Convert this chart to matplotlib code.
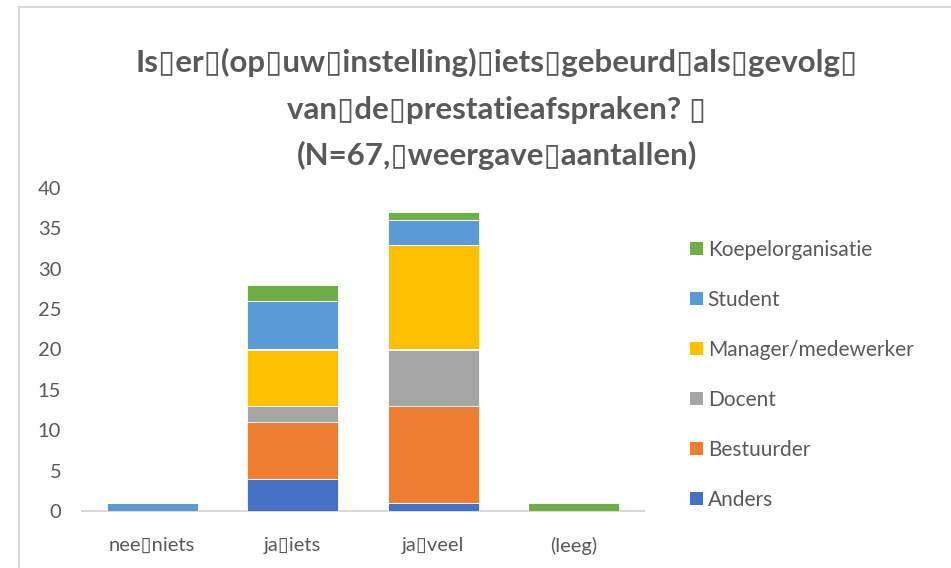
import matplotlib
matplotlib.use("Agg")
import matplotlib.pyplot as plt
from matplotlib.lines import Line2D
from matplotlib.patches import Patch
import numpy as np

B = "\u25AF"  # box glyph, as rendered in the reference

categories = [f"nee{B}niets", f"ja{B}iets", f"ja{B}veel", "(leeg)"]
series_names = ["Anders", "Bestuurder", "Docent", "Manager/medewerker", "Student", "Koepelorganisatie"]
anders = [0, 4, 1, 0]
bestuurder = [0, 7, 12, 0]
docent = [0, 2, 7, 0]
manager = [0, 7, 13, 0]
student = [1, 6, 3, 0]
koepel = [0, 2, 1, 1]
yticks = [0, 5, 10, 15, 20, 25, 30, 35, 40]

title_lines = [
    f"Is{B}er{B}(op{B}uw{B}instelling){B}iets{B}gebeurd{B}als{B}gevolg{B}",
    f"van{B}de{B}prestatieafspraken? {B}",
    f"(N=67,{B}weergave{B}aantallen)",
]

colors = ["#4472C4", "#ED7D31", "#A5A5A5", "#FFC000", "#5B9BD5", "#70AD47"]
values = [anders, bestuurder, docent, manager, student, koepel]

plt.rcParams['font.family'] = ['Lato', 'DejaVu Sans']
TXT = "#595959"

W, H = 951, 568
fig = plt.figure(figsize=(W / 100, H / 100), dpi=100)
ax = fig.add_axes([82 / W, 1 - 511 / H, (644 - 82) / W, (511 - 188) / H])

x = np.arange(len(categories))
bottom = np.zeros(len(categories))
for name, vals, c in zip(series_names, values, colors):
    v = np.array(vals, dtype=float)
    ax.bar(x, v, bottom=bottom, width=0.65, color=c, edgecolor="white",
           linewidth=0.6, label=name, zorder=2)
    bottom += v

ax.set_xlim(-0.5, len(categories) - 0.5)
ax.set_ylim(0, 40)
ax.set_yticks(yticks)
ax.set_yticklabels([str(t) for t in yticks])
ax.set_xticks(x)
ax.set_xticklabels(categories)
for s in ["top", "right", "left"]:
    ax.spines[s].set_visible(False)
ax.spines["bottom"].set_color("#D9D9D9")
ax.spines["bottom"].set_linewidth(1.5)
ax.spines["bottom"].set_zorder(1)
ax.tick_params(axis="both", length=0, colors=TXT, labelsize=14.5)
ax.tick_params(axis="y", pad=15)
ax.tick_params(axis="x", pad=19)

# legend
handles = [Patch(facecolor=c, edgecolor="none") for c in colors][::-1]
labels = series_names[::-1]
leg = fig.legend(handles, labels, loc="upper left",
                 bbox_to_anchor=(690 / W, 1 - 240 / H), frameon=False,
                 fontsize=15, labelcolor=TXT, handlelength=0.6,
                 handleheight=0.6, handletextpad=0.25, labelspacing=1.44,
                 borderaxespad=0, borderpad=0)

# title
ys = [62, 110, 155]
for t, yy in zip(title_lines, ys):
    fig.text(497 / W, 1 - yy / H, t, ha="center", va="center",
             fontsize=22.5, fontweight="bold", color=TXT)

# chart frame (left and top)
fig.add_artist(Line2D([19 / W, 19 / W], [0, 1 - 7 / H], color="#D9D9D9",
                      linewidth=1.5, transform=fig.transFigure))
fig.add_artist(Line2D([19 / W, 1], [1 - 7 / H, 1 - 7 / H], color="#D9D9D9",
                      linewidth=1.5, transform=fig.transFigure))

fig.savefig("out.png", dpi=100)
